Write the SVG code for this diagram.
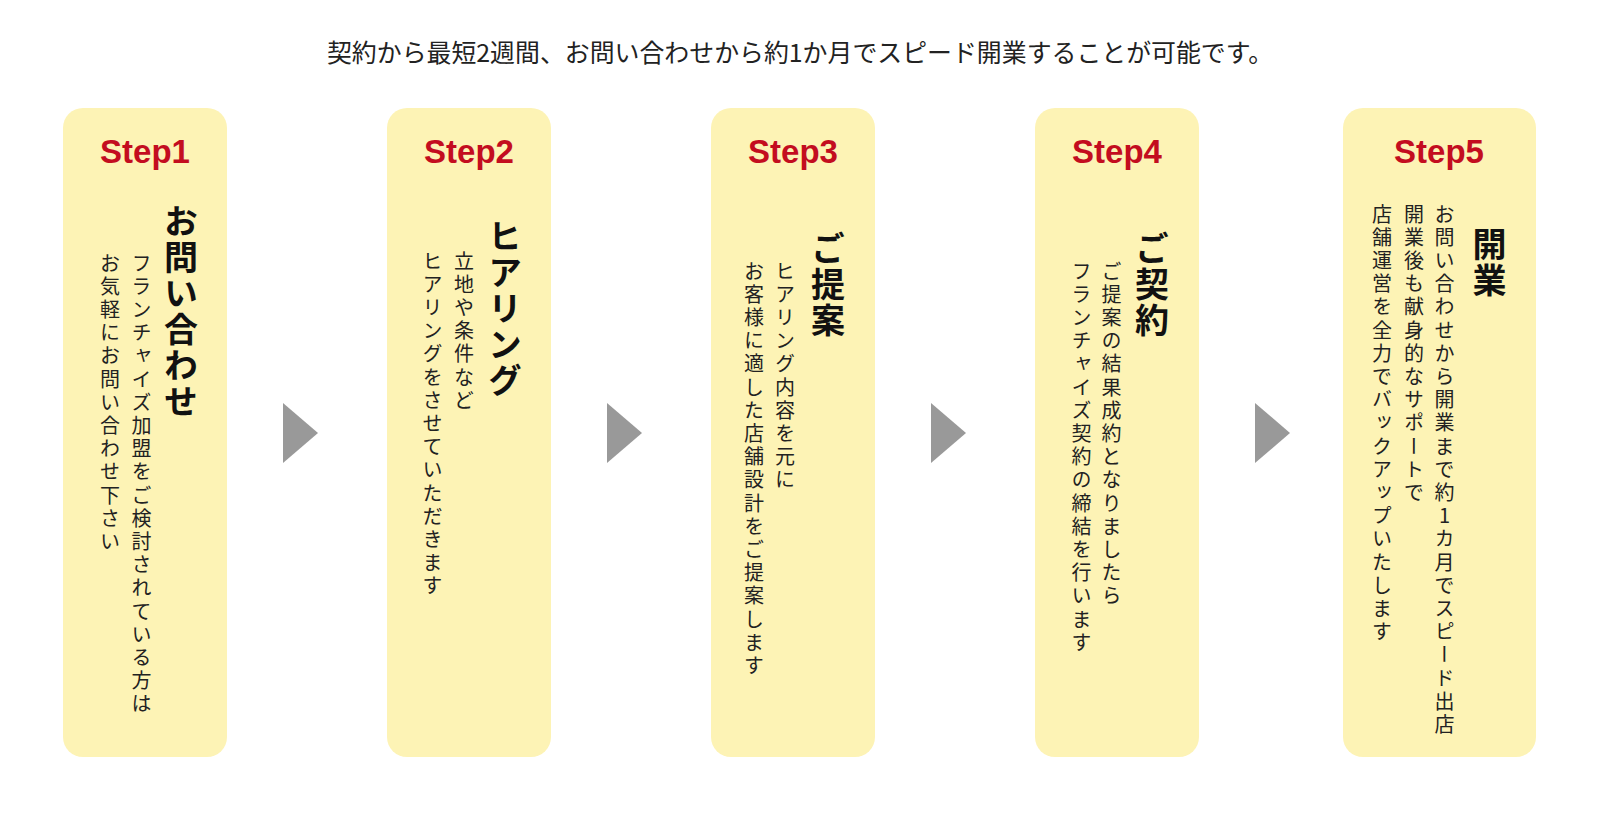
<svg xmlns="http://www.w3.org/2000/svg" width="1600" height="816" viewBox="0 0 1600 816">
<style>
.box{fill:#fdf3b5;}
.step{font-family:"Liberation Sans",Arial,sans-serif;font-weight:bold;font-size:33px;fill:#c30d1f;text-anchor:middle;}
.lead{font-family:"Noto Sans CJK JP",sans-serif;font-size:24.9px;fill:#222;text-anchor:middle;}
.ttl{font-family:"Noto Sans CJK JP",sans-serif;font-weight:bold;font-size:34px;fill:#111;writing-mode:vertical-rl;text-orientation:upright;letter-spacing:2px;}
.body{font-family:"Noto Sans CJK JP",sans-serif;font-size:20px;fill:#222;writing-mode:vertical-rl;text-orientation:upright;letter-spacing:3.2px;}
.arrow{fill:#999999;}
</style>
<rect width="1600" height="816" fill="#ffffff"/>
<text class="lead" x="800" y="62">契約から最短2週間、お問い合わせから約1か月でスピード開業することが可能です。</text>

<g id="step1">
<rect class="box" x="63" y="108" width="164" height="649" rx="20"/>
<text class="step" x="145" y="163">Step1</text>
<text class="ttl" x="181" y="204">お問い合わせ</text>
<text class="body" x="141.5" y="253">フランチャイズ加盟をご検討されている方は</text>
<text class="body" x="110" y="253">お気軽にお問い合わせ下さい</text>
</g>

<g id="step2">
<rect class="box" x="387" y="108" width="164" height="649" rx="20"/>
<text class="step" x="469" y="163">Step2</text>
<text class="ttl" x="505" y="219">ヒアリング</text>
<text class="body" x="464" y="251">立地や条件など</text>
<text class="body" x="432.5" y="251">ヒアリングをさせていただきます</text>
</g>

<g id="step3">
<rect class="box" x="711" y="108" width="164" height="649" rx="20"/>
<text class="step" x="793" y="163">Step3</text>
<text class="ttl" x="828" y="231">ご提案</text>
<text class="body" x="785" y="261">ヒアリング内容を元に</text>
<text class="body" x="754" y="261">お客様に適した店舗設計をご提案します</text>
</g>

<g id="step4">
<rect class="box" x="1035" y="108" width="164" height="649" rx="20"/>
<text class="step" x="1117" y="163">Step4</text>
<text class="ttl" x="1152" y="231">ご契約</text>
<text class="body" x="1111.5" y="261">ご提案の結果成約となりましたら</text>
<text class="body" x="1081.5" y="261">フランチャイズ契約の締結を行います</text>
</g>

<g id="step5">
<rect class="box" x="1343" y="108" width="193" height="649" rx="20"/>
<text class="step" x="1439" y="163">Step5</text>
<text class="ttl" x="1489.5" y="227">開業</text>
<text class="body" x="1444.5" y="204">お問い合わせから開業まで約1カ月でスピード出店</text>
<text class="body" x="1414" y="204">開業後も献身的なサポートで</text>
<text class="body" x="1382" y="204">店舗運営を全力でバックアップいたします</text>
</g>

<g id="connectors">
<polygon class="arrow" points="283,403 318,433 283,463"/>
<polygon class="arrow" points="607,403 642,433 607,463"/>
<polygon class="arrow" points="931,403 966,433 931,463"/>
<polygon class="arrow" points="1255,403 1290,433 1255,463"/>
</g>
</svg>
